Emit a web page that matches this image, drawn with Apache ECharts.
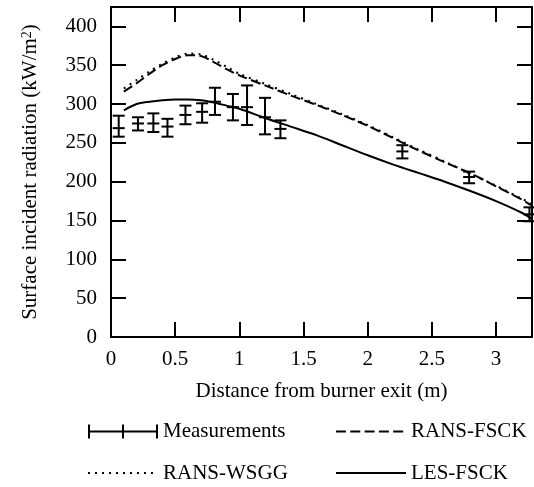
<!DOCTYPE html>
<html><head><meta charset="utf-8">
<script src="https://cdn.jsdelivr.net/npm/echarts@6/dist/echarts.min.js"></script>
<style>html,body{margin:0;padding:0;background:#fff}#c{width:534px;height:487px}</style>
</head><body><div id="c"></div><script>
// ---- data ----
const xAxisTitle = 'Distance from burner exit (m)';
const yAxisTitle = 'Surface incident radiation (kW/m';
const seriesNames = ['Measurements', 'RANS-FSCK', 'RANS-WSGG', 'LES-FSCK'];

const measX    = [0.06, 0.21, 0.33, 0.44, 0.58, 0.71, 0.81, 0.95, 1.06, 1.20, 1.32, 2.27, 2.79, 3.26];
const measY    = [269, 275, 275, 271, 286, 290, 303, 296, 296, 283, 268, 239, 206, 158];
const measLow  = [258, 266, 264, 258, 274, 276, 286, 279, 273, 261, 256, 230, 198, 149];
const measHigh = [285, 283, 288, 281, 298, 301, 321, 313, 324, 308, 279, 247, 213, 167];

const modelX    = [0.1, 0.2, 0.3, 0.4, 0.5, 0.6, 0.7, 0.8, 0.9, 1.0, 1.2, 1.4, 1.6, 1.8, 2.0, 2.2, 2.4, 2.6, 2.8, 3.0, 3.2, 3.28];
const ransFsck  = [316, 327, 339, 350, 358, 363, 362, 354, 345, 337, 324, 311, 299, 286, 272, 256, 240, 225, 211, 194, 177, 169];
const ransWsgg  = [320, 331, 342, 352, 360, 365, 364, 357, 348, 339, 326, 313, 300, 287, 273, 257, 241, 226, 210, 195, 178, 172];
const lesFsck   = [292, 300, 303, 305, 306, 306, 305, 302, 298, 294, 282, 271, 260, 247, 234, 222, 211, 200, 188, 175, 160, 152];

const xMin = 0, xMax = 3.28, xStep = 0.5;
const yMin = 0, yMax = 425, yStep = 50;

// ---- chart ----
const FONT = '"Liberation Serif", "Times New Roman", serif';
const pairs = (xs, ys) => xs.map((x, i) => [x, ys[i]]);
const chart = echarts.init(document.getElementById('c'));

const axisLine = () => ({show: true, onZero: false, lineStyle: {color: '#000', width: 2}});
const axisTick = () => ({show: true, inside: true, length: 15, interval: 0, lineStyle: {color: '#000', width: 2}});
const labelStyle = () => ({color: '#000', fontSize: 21, fontFamily: FONT});

const errIcon = 'path://M0,0h2v14h-2z M0,6h70v2h-70z M34,0h2v14h-2z M68,0h2v14h-2z';
const noSym = {opacity: 0};

const option = {
  animation: false,
  backgroundColor: '#fff',
  grid: {left: 111, right: 2, top: 7, bottom: 150},
  xAxis: [
    {type: 'value', min: xMin, max: xMax, interval: xStep, position: 'bottom',
     axisLine: axisLine(), axisTick: axisTick(), splitLine: {show: false},
     axisLabel: Object.assign({margin: 12, showMaxLabel: false}, labelStyle()),
     name: xAxisTitle, nameLocation: 'middle', nameGap: 44,
     nameTextStyle: labelStyle()},
    {type: 'value', min: xMin, max: xMax, interval: xStep, position: 'top',
     axisLine: axisLine(), axisTick: axisTick(), splitLine: {show: false}, axisLabel: {show: false}}
  ],
  yAxis: [
    {type: 'value', min: yMin, max: yMax, interval: yStep, position: 'left',
     axisLine: axisLine(), axisTick: axisTick(), splitLine: {show: false},
     axisLabel: Object.assign({margin: 14, showMaxLabel: false}, labelStyle()),
     name: '{a|' + yAxisTitle + '}{s|2}{a|)}', nameLocation: 'middle', nameGap: 70,
     nameTextStyle: {color: '#000', fontFamily: FONT, fontSize: 21,
       rich: {a: {fontSize: 21, fontFamily: FONT, color: '#000', lineHeight: 21, verticalAlign: 'middle'},
              s: {fontSize: 14, fontFamily: FONT, color: '#000', lineHeight: 14, verticalAlign: 'top'}}}},
    {type: 'value', min: yMin, max: yMax, interval: yStep, position: 'right',
     axisLine: axisLine(), axisTick: axisTick(), splitLine: {show: false}, axisLabel: {show: false}}
  ],
  legend: [
    {left: 87, top: 421, orient: 'vertical', padding: 0, itemWidth: 70, itemHeight: 14,
     itemTextGap: 12, itemGap: 20.6, selectedMode: false,
     textStyle: {color: '#000', fontSize: 21, fontFamily: FONT, lineHeight: 21},
     data: [{name: seriesNames[0], icon: errIcon, itemStyle: {color: '#000'}},
            {name: seriesNames[2], itemStyle: noSym}]},
    {left: 335, top: 421, orient: 'vertical', padding: 0, itemWidth: 70, itemHeight: 14,
     itemTextGap: 12, itemGap: 20.6, selectedMode: false,
     textStyle: {color: '#000', fontSize: 21, fontFamily: FONT, lineHeight: 21},
     data: [{name: seriesNames[1], itemStyle: noSym}, {name: seriesNames[3], itemStyle: noSym}]}
  ],
  series: [
    {name: seriesNames[1], type: 'line', data: pairs(modelX, ransFsck), symbol: 'none', smooth: 0.3,
     itemStyle: {color: '#000'}, lineStyle: {color: '#000', width: 2, type: [10, 4.3]}},
    {name: seriesNames[2], type: 'line', data: pairs(modelX, ransWsgg), symbol: 'none', smooth: 0.3,
     itemStyle: {color: '#000'}, lineStyle: {color: '#000', width: 2, type: [2, 5]}},
    {name: seriesNames[3], type: 'line', data: pairs(modelX, lesFsck), symbol: 'none', smooth: 0.3,
     itemStyle: {color: '#000'}, lineStyle: {color: '#000', width: 2, type: 'solid'}},
    {name: seriesNames[0], type: 'custom', clip: false,
     itemStyle: {color: '#000'},
     encode: {x: 0, y: 1},
     data: measX.map((x, i) => [x, measY[i], measLow[i], measHigh[i]]),
     renderItem: function (params, api) {
       const x = api.value(0);
       const pm = api.coord([x, api.value(1)]);
       const pl = api.coord([x, api.value(2)]);
       const ph = api.coord([x, api.value(3)]);
       const hw = 6;
       const st = {stroke: '#000', lineWidth: 2, fill: null};
       const seg = (x1, y1, x2, y2) => ({type: 'line', shape: {x1, y1, x2, y2}, style: st});
       return {type: 'group', children: [
         seg(pl[0], pl[1], ph[0], ph[1]),
         seg(pl[0] - hw, pl[1], pl[0] + hw, pl[1]),
         seg(ph[0] - hw, ph[1], ph[0] + hw, ph[1]),
         seg(pm[0] - hw, pm[1], pm[0] + hw, pm[1])
       ]};
     }}
  ]
};
chart.setOption(option);
</script></body></html>
